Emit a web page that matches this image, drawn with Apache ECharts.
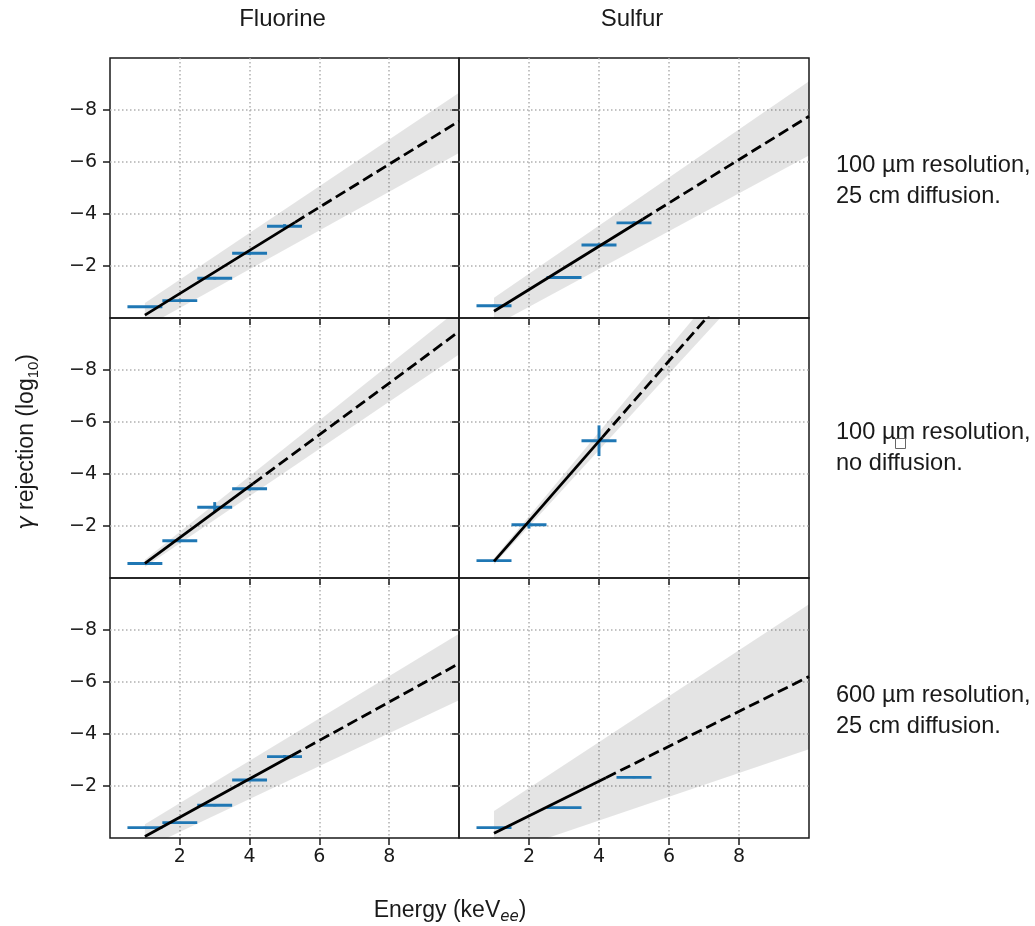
<!DOCTYPE html>
<html>
<head>
<meta charset="utf-8">
<script src="https://cdn.jsdelivr.net/npm/echarts@6/dist/echarts.min.js"></script>
<style>
  html, body { margin: 0; padding: 0; background: #ffffff; }
  #chart { width: 1035px; height: 926px; }
</style>
</head>
<body>
<div id="chart"></div>
<script>
// Column titles (target element) and row captions (readout settings)
const elements = ['Fluorine', 'Sulfur'];
const settings = [
  '100 µm resolution,\n25 cm diffusion.',
  '100 µm resolution,\nno diffusion.',
  '600 µm resolution,\n25 cm diffusion.'
];
const xTicks = [2, 4, 6, 8];
const yTicks = [-8, -6, -4, -2];
const binHalfWidth = 0.5; // keVee, half width of each energy bin

// ---- Fluorine, 100 µm resolution, 25 cm diffusion ----
const fluorine100um25cm_E = [1, 2, 3, 4, 5];
const fluorine100um25cm_R = [-0.43, -0.67, -1.53, -2.49, -3.53];
const fluorine100um25cm_err = [0.03, 0.04, 0.05, 0.06, 0.08];
const fluorine100um25cm_fitE = [1, 5.3, 10];
const fluorine100um25cm_fitR = [-0.11, -3.68, -7.57];
const fluorine100um25cm_bandE = [1, 10];
const fluorine100um25cm_bandHi = [-0.58, -8.66];
const fluorine100um25cm_bandLo = [0.36, -6.35];

// ---- Sulfur, 100 µm resolution, 25 cm diffusion ----
const sulfur100um25cm_E = [1, 3, 4, 5];
const sulfur100um25cm_R = [-0.47, -1.56, -2.81, -3.66];
const sulfur100um25cm_err = [0.04, 0.05, 0.06, 0.06];
const sulfur100um25cm_fitE = [1, 5.25, 10];
const sulfur100um25cm_fitR = [-0.26, -3.80, -7.76];
const sulfur100um25cm_bandE = [1, 10];
const sulfur100um25cm_bandHi = [-0.78, -9.11];
const sulfur100um25cm_bandLo = [0.30, -6.25];

// ---- Fluorine, 100 µm resolution, no diffusion ----
const fluorine100umNoDiff_E = [1, 2, 3, 4];
const fluorine100umNoDiff_R = [-0.56, -1.43, -2.72, -3.43];
const fluorine100umNoDiff_err = [0.04, 0.05, 0.2, 0.06];
const fluorine100umNoDiff_fitE = [1, 4.1, 10];
const fluorine100umNoDiff_fitR = [-0.56, -3.63, -9.48];
const fluorine100umNoDiff_bandE = [1, 10];
const fluorine100umNoDiff_bandHi = [-0.70, -10.35];
const fluorine100umNoDiff_bandLo = [-0.42, -8.60];

// ---- Sulfur, 100 µm resolution, no diffusion ----
const sulfur100umNoDiff_E = [1, 2, 4];
const sulfur100umNoDiff_R = [-0.67, -2.05, -5.28];
const sulfur100umNoDiff_err = [0.03, 0.15, 0.59];
const sulfur100umNoDiff_fitE = [1, 4.1, 10];
const sulfur100umNoDiff_fitR = [-0.64, -5.42, -14.52];
const sulfur100umNoDiff_bandE = [1, 10];
const sulfur100umNoDiff_bandHi = [-0.76, -15.32];
const sulfur100umNoDiff_bandLo = [-0.52, -13.72];

// ---- Fluorine, 600 µm resolution, 25 cm diffusion ----
const fluorine600um25cm_E = [1, 2, 3, 4, 5];
const fluorine600um25cm_R = [-0.40, -0.59, -1.26, -2.23, -3.13];
const fluorine600um25cm_err = [0.03, 0.03, 0.04, 0.05, 0.06];
const fluorine600um25cm_fitE = [1, 5.2, 10];
const fluorine600um25cm_fitR = [-0.06, -3.16, -6.71];
const fluorine600um25cm_bandE = [1, 10];
const fluorine600um25cm_bandHi = [-0.53, -7.86];
const fluorine600um25cm_bandLo = [0.40, -5.30];

// ---- Sulfur, 600 µm resolution, 25 cm diffusion ----
const sulfur600um25cm_E = [1, 3, 5];
const sulfur600um25cm_R = [-0.40, -1.17, -2.33];
const sulfur600um25cm_err = [0.02, 0.03, 0.03];
const sulfur600um25cm_fitE = [1, 4.2, 10];
const sulfur600um25cm_fitR = [-0.18, -2.32, -6.21];
const sulfur600um25cm_bandE = [1, 10];
const sulfur600um25cm_bandHi = [-1.04, -8.99];
const sulfur600um25cm_bandLo = [0.70, -3.41];

// Panels in reading order (row by row, Fluorine then Sulfur)
const panels = [
  { E: fluorine100um25cm_E, R: fluorine100um25cm_R, err: fluorine100um25cm_err, fitE: fluorine100um25cm_fitE, fitR: fluorine100um25cm_fitR, bandE: fluorine100um25cm_bandE, bandHi: fluorine100um25cm_bandHi, bandLo: fluorine100um25cm_bandLo },
  { E: sulfur100um25cm_E, R: sulfur100um25cm_R, err: sulfur100um25cm_err, fitE: sulfur100um25cm_fitE, fitR: sulfur100um25cm_fitR, bandE: sulfur100um25cm_bandE, bandHi: sulfur100um25cm_bandHi, bandLo: sulfur100um25cm_bandLo },
  { E: fluorine100umNoDiff_E, R: fluorine100umNoDiff_R, err: fluorine100umNoDiff_err, fitE: fluorine100umNoDiff_fitE, fitR: fluorine100umNoDiff_fitR, bandE: fluorine100umNoDiff_bandE, bandHi: fluorine100umNoDiff_bandHi, bandLo: fluorine100umNoDiff_bandLo },
  { E: sulfur100umNoDiff_E, R: sulfur100umNoDiff_R, err: sulfur100umNoDiff_err, fitE: sulfur100umNoDiff_fitE, fitR: sulfur100umNoDiff_fitR, bandE: sulfur100umNoDiff_bandE, bandHi: sulfur100umNoDiff_bandHi, bandLo: sulfur100umNoDiff_bandLo },
  { E: fluorine600um25cm_E, R: fluorine600um25cm_R, err: fluorine600um25cm_err, fitE: fluorine600um25cm_fitE, fitR: fluorine600um25cm_fitR, bandE: fluorine600um25cm_bandE, bandHi: fluorine600um25cm_bandHi, bandLo: fluorine600um25cm_bandLo },
  { E: sulfur600um25cm_E, R: sulfur600um25cm_R, err: sulfur600um25cm_err, fitE: sulfur600um25cm_fitE, fitR: sulfur600um25cm_fitR, bandE: sulfur600um25cm_bandE, bandHi: sulfur600um25cm_bandHi, bandLo: sulfur600um25cm_bandLo }
];

// Layout of the 3 x 2 panel grid
const colLeft = [110, 459];
const colWidth = [349, 350];
const rowTop = [58, 318, 578];
const rowHeight = 260;
const captionY = [180.5, 448, 710.5];

const INK = '#1a1a1a';
const BLUE = '#1f77b4';
const TICK_FONT = 'DejaVu Sans';
const TEXT_FONT = 'Liberation Sans';

const grids = [], xAxes = [], yAxes = [], series = [];
const gridLine = { show: true, lineStyle: { color: '#b0b0b0', width: 1.5, type: [1.5, 2.5] } };

panels.forEach((p, i) => {
  const r = Math.floor(i / 2), c = i % 2;
  grids.push({
    left: colLeft[c], top: rowTop[r], width: colWidth[c], height: rowHeight,
    show: true, borderColor: INK, borderWidth: 1.5, backgroundColor: 'transparent'
  });
  xAxes.push({
    type: 'value', gridIndex: i, min: 0, max: 10, interval: 2,
    axisLine: { show: false },
    axisTick: { show: true, inside: false, length: 7, customValues: xTicks, lineStyle: { color: INK, width: 1.5 } },
    axisLabel: { show: r === 2, customValues: xTicks, fontFamily: TICK_FONT, fontSize: 19, color: INK, margin: 10 },
    splitLine: gridLine
  });
  yAxes.push({
    type: 'value', gridIndex: i, min: -10, max: 0, interval: 2, inverse: true,
    axisLine: { show: false },
    axisTick: { show: true, inside: false, length: 7, customValues: yTicks, lineStyle: { color: INK, width: 1.5 } },
    axisLabel: { show: c === 0, customValues: yTicks, fontFamily: TICK_FONT, fontSize: 19, color: INK, margin: 13,
      formatter: v => '\u2212' + Math.abs(v) },
    splitLine: gridLine
  });

  // uncertainty band of the fit
  series.push({
    type: 'custom', xAxisIndex: i, yAxisIndex: i, clip: true, silent: true, z: 2,
    data: p.bandE.map((e, k) => [e, p.bandLo[k], p.bandHi[k]]),
    renderItem: (params, api) => {
      const k = params.dataIndex;
      if (k >= p.bandE.length - 1) return null;
      const pts = [
        api.coord([p.bandE[k], p.bandLo[k]]),
        api.coord([p.bandE[k + 1], p.bandLo[k + 1]]),
        api.coord([p.bandE[k + 1], p.bandHi[k + 1]]),
        api.coord([p.bandE[k], p.bandHi[k]])
      ];
      return { type: 'polygon', shape: { points: pts }, style: { fill: 'rgba(0,0,0,0.105)' } };
    }
  });

  // measured points with bin width and statistical error
  series.push({
    type: 'custom', xAxisIndex: i, yAxisIndex: i, silent: true, z: 3,
    data: p.E.map((e, k) => [e, p.R[k], binHalfWidth, p.err[k]]),
    renderItem: (params, api) => {
      const x = api.value(0), y = api.value(1), xe = api.value(2), ye = api.value(3);
      const a = api.coord([x - xe, y]), b = api.coord([x + xe, y]);
      const t = api.coord([x, y - ye]), u = api.coord([x, y + ye]);
      const st = { stroke: BLUE, lineWidth: 2.9 };
      return {
        type: 'group',
        children: [
          { type: 'line', shape: { x1: a[0], y1: a[1], x2: b[0], y2: b[1] }, style: st },
          { type: 'line', shape: { x1: t[0], y1: t[1], x2: u[0], y2: u[1] }, style: st }
        ]
      };
    }
  });

  // fit over the measured range
  series.push({
    type: 'line', xAxisIndex: i, yAxisIndex: i, clip: true, silent: true, z: 4,
    symbol: 'none', animation: false,
    data: [[p.fitE[0], p.fitR[0]], [p.fitE[1], p.fitR[1]]],
    lineStyle: { color: '#000', width: 2.8 }
  });
  // extrapolation
  series.push({
    type: 'line', xAxisIndex: i, yAxisIndex: i, clip: true, silent: true, z: 4,
    symbol: 'none', animation: false,
    data: [[p.fitE[1], p.fitR[1]], [p.fitE[2], p.fitR[2]]],
    lineStyle: { color: '#000', width: 2.8, type: [11, 5] }
  });
});

const graphics = [];
elements.forEach((name, c) => {
  graphics.push({
    type: 'text', x: colLeft[c] + colWidth[c] / 2 - 2, y: 19,
    style: { text: name, fontFamily: TEXT_FONT, fontSize: 24, fill: INK, align: 'center', verticalAlign: 'middle' }
  });
});
settings.forEach((txt, r) => {
  graphics.push({
    type: 'text', x: 836, y: captionY[r],
    style: { text: txt, fontFamily: TEXT_FONT, fontSize: 23.6, lineHeight: 31, fill: INK, align: 'left', verticalAlign: 'middle' }
  });
});
// missing-glyph box that the caption of the middle row carries
graphics.push({
  type: 'rect', shape: { x: 895.5, y: 438.5, width: 10, height: 10 },
  style: { fill: 'none', stroke: '#666', lineWidth: 1 }
});
// x axis title
graphics.push({
  type: 'text', x: 450, y: 911,
  style: {
    text: '{a|Energy (keV}{s|ee}{a|)}', align: 'center', verticalAlign: 'middle',
    rich: {
      a: { fontFamily: TEXT_FONT, fontSize: 23, fill: INK, lineHeight: 28 },
      s: { fontFamily: TICK_FONT, fontSize: 15, fontStyle: 'italic', fill: INK, verticalAlign: 'bottom', lineHeight: 18 }
    }
  }
});
// y axis title
graphics.push({
  type: 'text', x: 27, y: 442, rotation: Math.PI / 2,
  style: {
    text: '{g|γ}{a| rejection (log}{s|10}{a|)}', align: 'center', verticalAlign: 'middle',
    rich: {
      g: { fontFamily: TICK_FONT, fontSize: 23, fontStyle: 'italic', fill: INK, lineHeight: 28 },
      a: { fontFamily: TEXT_FONT, fontSize: 23, fill: INK, lineHeight: 28 },
      s: { fontFamily: TEXT_FONT, fontSize: 15, fill: INK, verticalAlign: 'bottom', lineHeight: 18 }
    }
  }
});

const chart = echarts.init(document.getElementById('chart'), null, { renderer: 'canvas' });
chart.setOption({
  animation: false,
  backgroundColor: '#ffffff',
  grid: grids,
  xAxis: xAxes,
  yAxis: yAxes,
  series: series,
  graphic: graphics
});
</script>
</body>
</html>
